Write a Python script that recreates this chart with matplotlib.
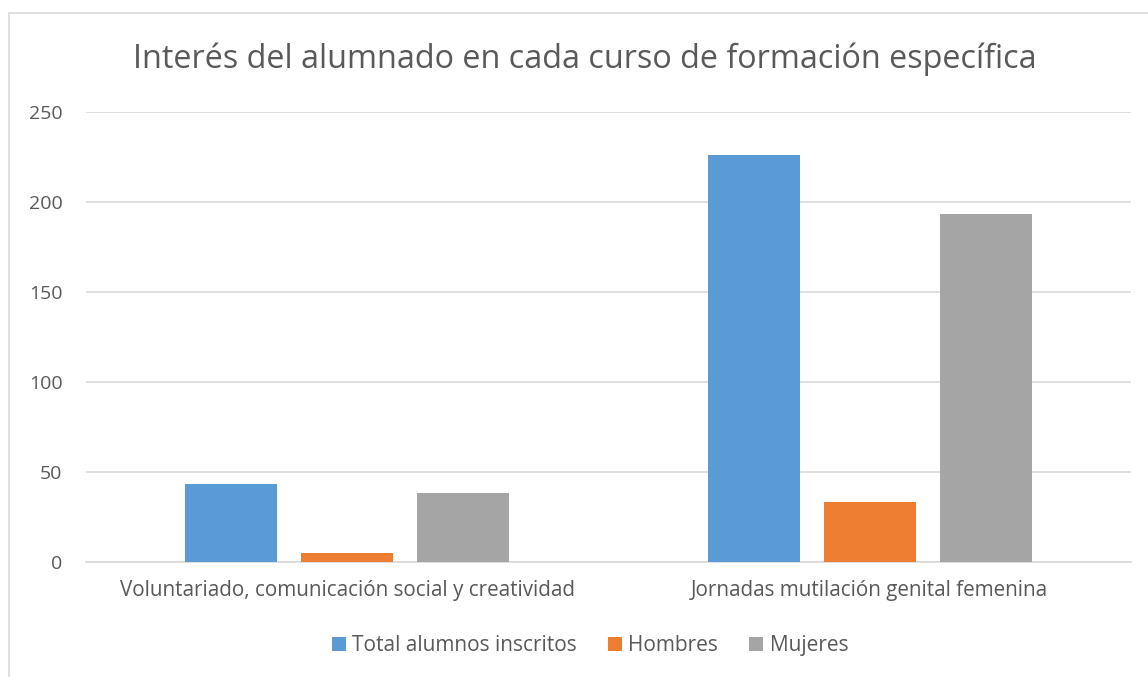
import matplotlib.pyplot as plt
from matplotlib.patches import Rectangle
import numpy as np

cursos = ['Voluntariado, comunicación social y creatividad', 'Jornadas mutilación genital femenina']
total = [43, 226]
hombres = [5, 33]
mujeres = [38, 193]
series = ['Total alumnos inscritos', 'Hombres', 'Mujeres']
colores = ['#5B9BD5', '#ED7D31', '#A5A5A5']

plt.rcParams['font.family'] = ['Open Sans', 'DejaVu Sans']
txt = '#595959'

fig = plt.figure(figsize=(11.48, 6.77), dpi=100)
ax = fig.add_axes([0.0749, 0.1703, 0.9101, 0.6647])

x = np.arange(len(cursos))
w = 0.176
off = 0.222
for i, (vals, name, c) in enumerate(zip([total, hombres, mujeres], series, colores)):
    ax.bar(x + (i - 1) * off, vals, w, color=c, label=name, zorder=3)

ax.set_xlim(-0.5, 1.5)
ax.set_ylim(0, 250)
ax.set_yticks(range(0, 251, 50))
ax.yaxis.grid(True, color='#D9D9D9', linewidth=1.2, zorder=0)
ax.set_xticks(x)
ax.set_xticklabels(cursos, fontsize=14.9, color=txt)
ax.tick_params(axis='y', labelsize=14, colors=txt, length=0, pad=17)
ax.tick_params(axis='x', length=0, pad=13)
for s in ['top', 'right', 'left']:
    ax.spines[s].set_visible(False)
ax.spines['bottom'].set_color('#D9D9D9')
ax.spines['bottom'].set_linewidth(1.2)

fig.text(0.509, 0.913, 'Interés del alumnado en cada curso de formación específica',
         ha='center', va='center', fontsize=23.3, color=txt)

leg = fig.legend(loc='center', bbox_to_anchor=(0.514, 0.046), ncol=3, frameon=False,
                 fontsize=15, handlelength=0.67, handleheight=0.67, handletextpad=0.3,
                 columnspacing=1.5)
for t in leg.get_texts():
    t.set_color(txt)

fig.patches.append(Rectangle((0.008, -0.01), 1.1, 0.991, transform=fig.transFigure,
                             fill=False, edgecolor='#D9D9D9', linewidth=1.2))

fig.savefig('out.png', dpi=100)
